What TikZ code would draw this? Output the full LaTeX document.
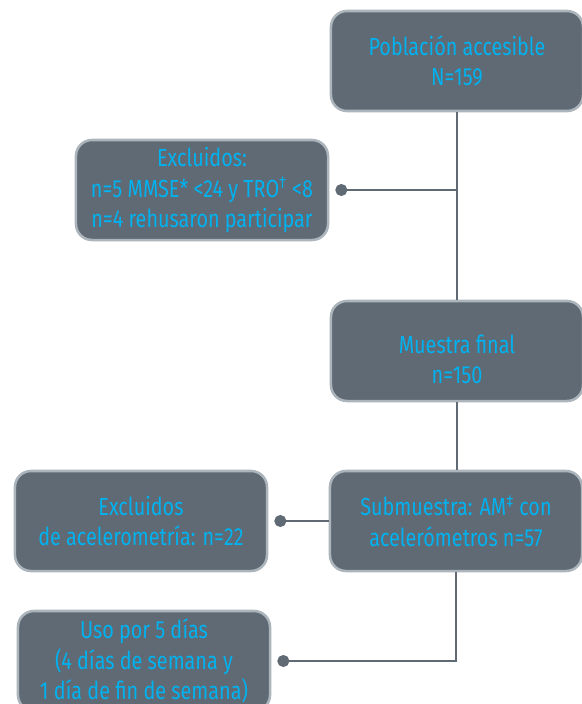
\documentclass[tikz,border=0pt]{standalone}
\usepackage{fontspec}
\setmainfont{Fira Sans}[FakeStretch=0.8]
\usetikzlibrary{arrows.meta}

\definecolor{boxgray}{RGB}{95,106,116}
\definecolor{boxedge}{RGB}{172,180,188}
\definecolor{txtcyan}{RGB}{0,178,240}

\tikzset{
    flowbox/.style={draw=boxedge, line width=1.8pt, fill=boxgray,
        rounded corners=0.4cm, minimum width=6.3cm, minimum height=2.5cm,
        inner sep=0pt, text=txtcyan, align=center,
        font=\fontsize{17.6}{21.5}\selectfont},
    link/.style={draw=boxgray, line width=1.7pt},
    dotend/.style={{Circle[length=8.5pt]}-, shorten <=4.3pt}
}

\begin{document}
\begin{tikzpicture}[x=0.025cm,y=-0.025cm]
                \useasboundingbox (0,0) rectangle (582,704);

                \node[flowbox] (pop) at (457,61) {Población accesible\\N=159};
                \node[flowbox] (exc1) at (202,190) {Excluidos:\\n=5 MMSE* <24 y TRO\textsuperscript{†} <8\\n=4 rehusaron participar};
                \node[flowbox] (mfinal) at (457,351) {\rule{0pt}{25pt}Muestra final\\n=150};
                \node[flowbox] (exc2) at (141,521) {Excluidos\\de acelerometría: n=22};
                \node[flowbox] (sub) at (456,521) {Submuestra: AM\textsuperscript{‡} con\\acelerómetros n=57};
                \node[flowbox] (uso) at (144,661) {Uso por 5 días\\(4 días de semana y\\1 día de fin de semana)};

                \draw[link] (pop.south) -- (mfinal.north);
                \draw[link,dotend] (exc1.east) -- (exc1.east -| pop.south);
                \draw[link] (mfinal.south) -- (mfinal.south |- sub.north);
                % \draw[link] (mfinal) -- (sub);
                \draw[link,dotend] (exc2.east) -- (sub.west);
                \draw[link,dotend] (uso.east) -| (sub.south);

            \end{tikzpicture}
\end{document}
